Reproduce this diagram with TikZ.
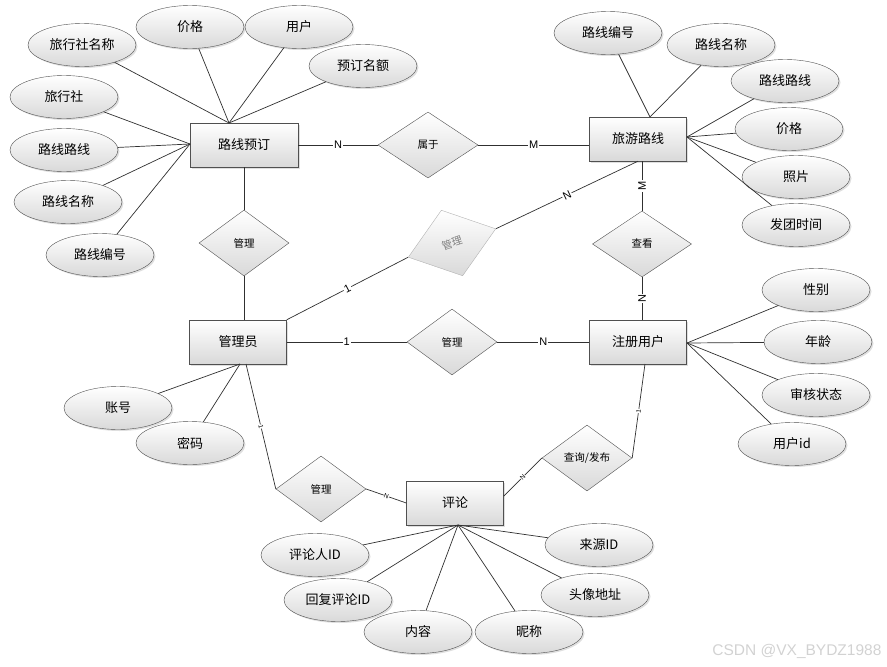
\documentclass[tikz,border=0pt]{standalone}
\usepackage{fontspec}
\setmainfont{Liberation Sans}
\newfontfamily\cjk{Noto Sans CJK SC}
\usepackage{tikz}
\usetikzlibrary{shapes.geometric,shadows}
\definecolor{rim}{HTML}{505050}
\definecolor{wire}{HTML}{303030}
\definecolor{pale}{HTML}{D9D9D9}

\begin{document}
\begin{tikzpicture}[x=1pt,y=-1pt,
  ent/.style={draw=rim,rectangle,minimum width=97,minimum height=44,inner sep=0,top color=white,bottom color=pale,drop shadow={shadow xshift=1.5pt,shadow yshift=-1.5pt,opacity=0.25},font=\cjk\fontsize{13}{15}\selectfont},
  attr/.style={draw=rim,ellipse,minimum width=108,minimum height=43,inner sep=0,top color=white,bottom color=pale,drop shadow={shadow xshift=1.5pt,shadow yshift=-1.5pt,opacity=0.25},font=\cjk\fontsize{13}{15}\selectfont},
  rel/.style={draw=rim,diamond,minimum width=90,minimum height=66,inner sep=0,top color=white,bottom color=pale,font=\cjk\fontsize{10.5}{12}\selectfont},
  ln/.style={draw=wire,line width=0.7pt},
  card/.style={fill=white,inner sep=1pt,font=\fontsize{11}{12}\selectfont},
  tick/.style={fill=white,inner sep=0.3pt,font=\fontsize{6.5}{7}\selectfont,sloped}]
\useasboundingbox (0,0) rectangle (887,667);
% entities
\node[ent,minimum width=108] (ly) at (244,145) {路线预订};
\node[ent] (lx) at (638,139) {旅游路线};
\node[ent] (gly) at (238,342) {管理员};
\node[ent] (zc) at (638,342) {注册用户};
\node[ent] (pl) at (455,503) {评论};
% relations
\node[rel,minimum width=100] (sy) at (428,145) {属于};
\node[rel] (gl1) at (244,243) {管理};
\node[rel,draw=gray!60,text=gray,rotate=18,minimum width=92,minimum height=69] (gl2) at (452,243) {管理};
\node[rel] (gl3) at (452,342) {管理};
\node[rel,minimum width=99] (ck) at (642,244) {查看};
\node[rel] (cx) at (587,458) {查询/发布};
\node[rel] (gl4) at (321,489) {管理};
% attributes
\foreach \n/\x/\y/\t in {a1/82/45/旅行社名称,a2/190/27/价格,a3/299/27/用户,a4/363/66/预订名额,
  a5/64/97/旅行社,a6/64/150/路线路线,a7/68/202/路线名称,a8/100/255/路线编号,
  b1/608/33/路线编号,b2/721/45/路线名称,b3/785/81/路线路线,b4/789/129/价格,b5/796/177/照片,b6/796/225/发团时间,
  c1/816/290/性别,c2/818/342/年龄,c3/816/395/审核状态,c4/792/444/用户id,
  d1/118/408/账号,d2/190/443/密码,
  e1/315/555/评论人ID,e2/338/600/回复评论ID,e3/418/632/内容,e4/529/632/昵称,e5/599/545/来源ID,e6/595/595/头像地址}{
  \node[attr] (\n) at (\x,\y) {\t};}
% attribute hubs
\coordinate (lyT) at (229,123);
\coordinate (lyL) at (190,144);
\coordinate (lxT) at (650,117);
\coordinate (lxR) at (687,137);
\coordinate (zcR) at (687,343);
\coordinate (glyB) at (240,364);
\coordinate (glyS) at (246,364);
\coordinate (plB) at (458,525);
\coordinate (zcB) at (645,364);
\foreach \a in {a1,a2,a3,a4}{\draw[ln] (\a) -- (lyT);}
\foreach \a in {a5,a6,a7,a8}{\draw[ln] (\a) -- (lyL);}
\foreach \a in {b1,b2}{\draw[ln] (\a) -- (lxT);}
\foreach \a in {b3,b4,b5,b6}{\draw[ln] (\a) -- (lxR);}
\foreach \a in {c1,c2,c3,c4}{\draw[ln] (\a) -- (zcR);}
\foreach \a in {d1,d2}{\draw[ln] (\a) -- (glyB);}
\foreach \a in {e1,e2,e3,e4,e5,e6}{\draw[ln] (\a) -- (plB);}
% relationships
\draw[ln] (ly.east) -- node[card]{N} (sy.west);
\draw[ln] (sy.east) -- node[card]{M} (sy.east -| lx.west);
\draw[ln] (ly.south) -- (gl1.north);
\draw[ln] (gl1.south) -- (gl1.south |- gly.north);
\draw[ln] (gly.north east) -- node[card,sloped]{1} (gl2.west);
\draw[ln] (gl2.east) -- node[card,sloped]{N} (lx.south);
\draw[ln] (ck.north |- lx.south) -- node[card,rotate=90]{M} (ck.north);
\draw[ln] (ck.south) -- node[card,rotate=90]{N} (ck.south |- zc.north);
\draw[ln] (gly.east) -- node[card]{1} (gl3.west);
\draw[ln] (gl3.east) -- node[card]{N} (zc.west);
\draw[ln] (glyS) -- node[tick]{1} (gl4.west);
\draw[ln] (gl4.east) -- node[tick]{N} (pl.west);
\draw[ln] (pl.8) -- node[tick]{N} (cx.west);
\draw[ln] (cx.east) -- node[tick]{1} (zcB);
\node[font=\fontsize{15.5}{16}\selectfont,text=gray!35,anchor=east] (wm) at (885,651) {CSDN @VX\_BYDZ1988};
\end{tikzpicture}
\end{document}
